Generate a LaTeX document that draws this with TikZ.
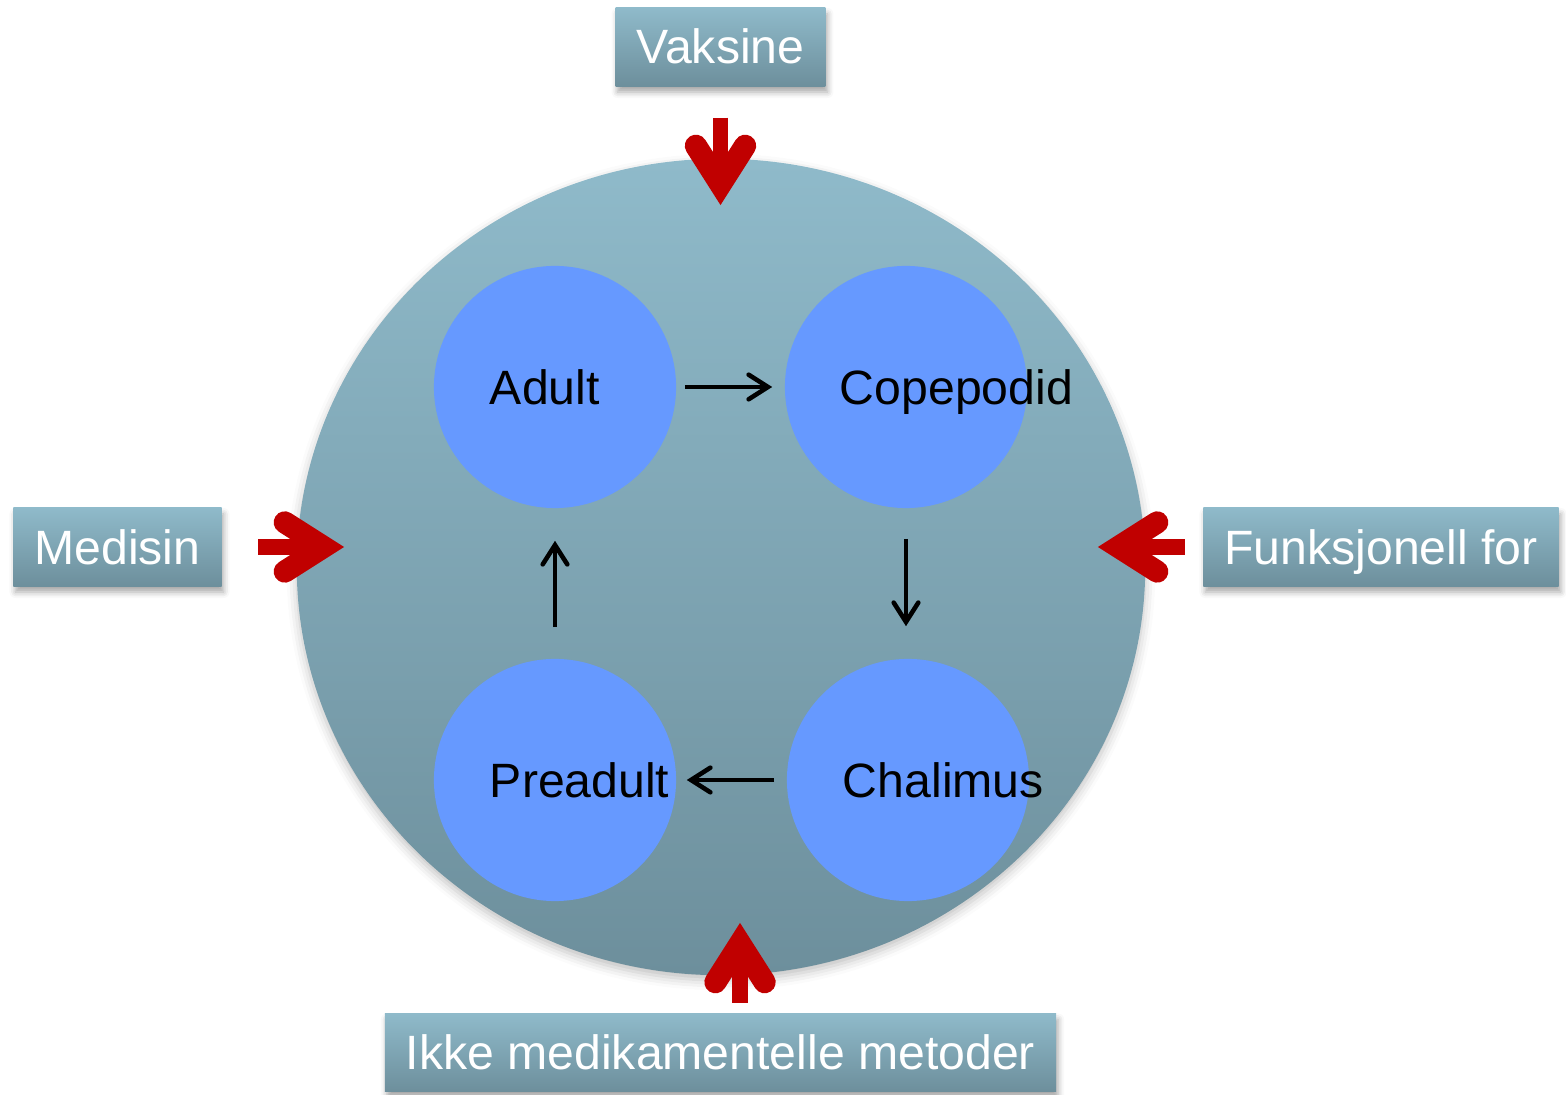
\documentclass[tikz,border=0pt]{standalone}
\usepackage{fontspec}
\setmainfont{Liberation Sans}
\usetikzlibrary{shapes.geometric, arrows.meta, positioning, shadows.blur}

\definecolor{tealtop}{HTML}{8FBACA}
\definecolor{tealbot}{HTML}{6D8F9C}
\definecolor{stageblue}{HTML}{6699FF}
\definecolor{arrowred}{HTML}{C00000}

\tikzstyle{syklus} = [ellipse, minimum width=8.48cm, minimum height=8.16cm, top color=tealtop, bottom color=tealbot, blur shadow={shadow xshift=0pt, shadow yshift=-0.5mm, shadow blur radius=1mm, shadow opacity=25}]
\tikzstyle{stadium} = [circle, fill=stageblue, minimum size=2.42cm, inner sep=0pt]
\tikzstyle{stadiumtekst} = [inner sep=0pt, text height=0.35cm, text depth=0pt, font=\fontsize{13.7pt}{16pt}\selectfont]
\tikzstyle{tiltak} = [rectangle, top color=tealtop, bottom color=tealbot, text=white, minimum height=0.78cm, inner xsep=0.21cm, text height=0.34cm, text depth=0pt, font=\fontsize{13.7pt}{16pt}\selectfont, blur shadow={shadow xshift=0.2mm, shadow yshift=-0.6mm, shadow blur radius=0.6mm, shadow opacity=35}]
\tikzstyle{pil} = [draw=black, line width=1.3pt, -{Straight Barb[length=5.5pt, width=7pt, line cap=round]}]
\tikzstyle{rodpil} = [draw=arrowred, line width=4.5pt, -{Straight Barb[length=11pt, width=14pt, line width=6.3pt, line cap=round, line join=miter]}]

\begin{document}
\begin{tikzpicture}[x=0.01cm, y=-0.01cm]
    \useasboundingbox (0,0) rectangle (1566,1095);

    %  livssyklus
    \node [syklus] (S) at (721,567) {};

    %-------------------------------------------------------------
    \node [stadium] (A) at (555,387) {};
    \node [stadium] (C) at (906,387) {};
    \node [stadium] (CH) at (908,780) {};
    \node [stadium] (P) at (555,780) {};

    \node [stadiumtekst, right=0.56cm of A.west] {Adult};
    \node [stadiumtekst, right=0.55cm of C.west] {Copepodid};
    \node [stadiumtekst, right=0.56cm of CH.west] {Chalimus};
    \node [stadiumtekst, right=0.56cm of P.west] {Preadult};

    \draw [pil, shorten <=0.08cm, shorten >=0.12cm] (A.east) -- (C.west);
    \draw [pil, shorten <=0.30cm, shorten >=0.32cm] (C.south) -- (C.south |- CH.north);
    \draw [pil, shorten <=0.12cm, shorten >=0.10cm] (CH.west) -- (CH.west -| P.east);
    \draw [pil, shorten <=0.31cm, shorten >=0.32cm] (P.north) -- (A.south);

    %-------------------------------------------------------------
    \node [tiltak] (V) at (720.5,47) {Vaksine};
    \node [tiltak] (M) at (117.5,547) {Medisin};
    \node [tiltak] (F) at (1381,547) {Funksjonell for};
    \node [tiltak] (I) at (720.5,1052.5) {Ikke medikamentelle metoder};

    \draw [rodpil, shorten <=0.31cm, shorten >=-0.47cm] (V.south) -- (V.south |- S.north);
    \draw [rodpil, shorten <=0.36cm, shorten >=-0.48cm] (M.east) -- (M.east -| S.west);
    \draw [rodpil, shorten <=0.18cm, shorten >=-0.48cm] (F.west) -- (F.west -| S.east);
    \draw [rodpil, shorten <=0.10cm, shorten >=-0.53cm] ([xshift=0.195cm]I.north) -- ([xshift=0.195cm]I.north |- S.south);

\end{tikzpicture}
\end{document}
